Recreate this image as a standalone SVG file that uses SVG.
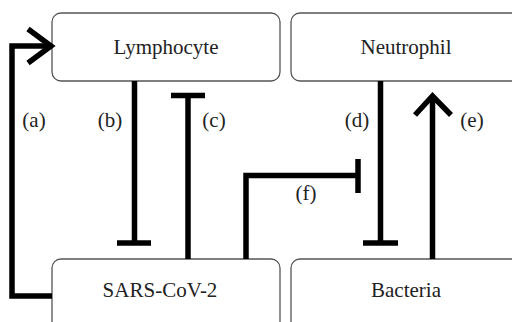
<svg xmlns="http://www.w3.org/2000/svg" width="512" height="322" viewBox="0 0 512 322">
<style>
.box{fill:#fff;stroke:#555;stroke-width:1.3}
.t{font-family:'Liberation Serif','DejaVu Serif',serif;font-size:21px;fill:#222;text-anchor:middle}
.c{fill:none;stroke:#000;stroke-width:5.5;stroke-linecap:butt;stroke-linejoin:miter}
</style>
<rect width="512" height="322" fill="#fff"/>
<g id="lymphocyte"><rect class="box" x="52" y="13" width="228" height="68" rx="9"/><text class="t" x="166" y="54">Lymphocyte</text></g>
<g id="neutrophil"><rect class="box" x="291" y="13" width="232" height="68" rx="9"/><text class="t" x="406" y="54">Neutrophil</text></g>
<g id="sars"><rect class="box" x="52" y="259" width="228" height="75" rx="9"/><text class="t" x="160" y="297">SARS-CoV-2</text></g>
<g id="bacteria"><rect class="box" x="291" y="259" width="232" height="75" rx="9"/><text class="t" x="406" y="297">Bacteria</text></g>
<g id="connectors">
<polyline class="c" points="52,296 12,296 12,46 50,46"/>
<polyline class="c" points="28,29 51,46 28,63"/>
<line class="c" x1="134.5" y1="81" x2="134.5" y2="243"/>
<line class="c" x1="117" y1="243" x2="151" y2="243"/>
<line class="c" x1="188" y1="259" x2="188" y2="95.5"/>
<line class="c" x1="171" y1="95.5" x2="205" y2="95.5"/>
<polyline class="c" points="246,259 246,175.5 358,175.5"/>
<line class="c" x1="358" y1="159" x2="358" y2="193"/>
<line class="c" x1="380.5" y1="81" x2="380.5" y2="243"/>
<line class="c" x1="363" y1="243" x2="398" y2="243"/>
<line class="c" x1="432.5" y1="259" x2="432.5" y2="97"/>
<polyline class="c" points="415,115 432.5,96 451,115"/>
<text class="t" x="34" y="127">(a)</text>
<text class="t" x="110" y="127">(b)</text>
<text class="t" x="214" y="127">(c)</text>
<text class="t" x="357" y="127">(d)</text>
<text class="t" x="472" y="127">(e)</text>
<text class="t" x="306" y="200">(f)</text>
</g>
</svg>
